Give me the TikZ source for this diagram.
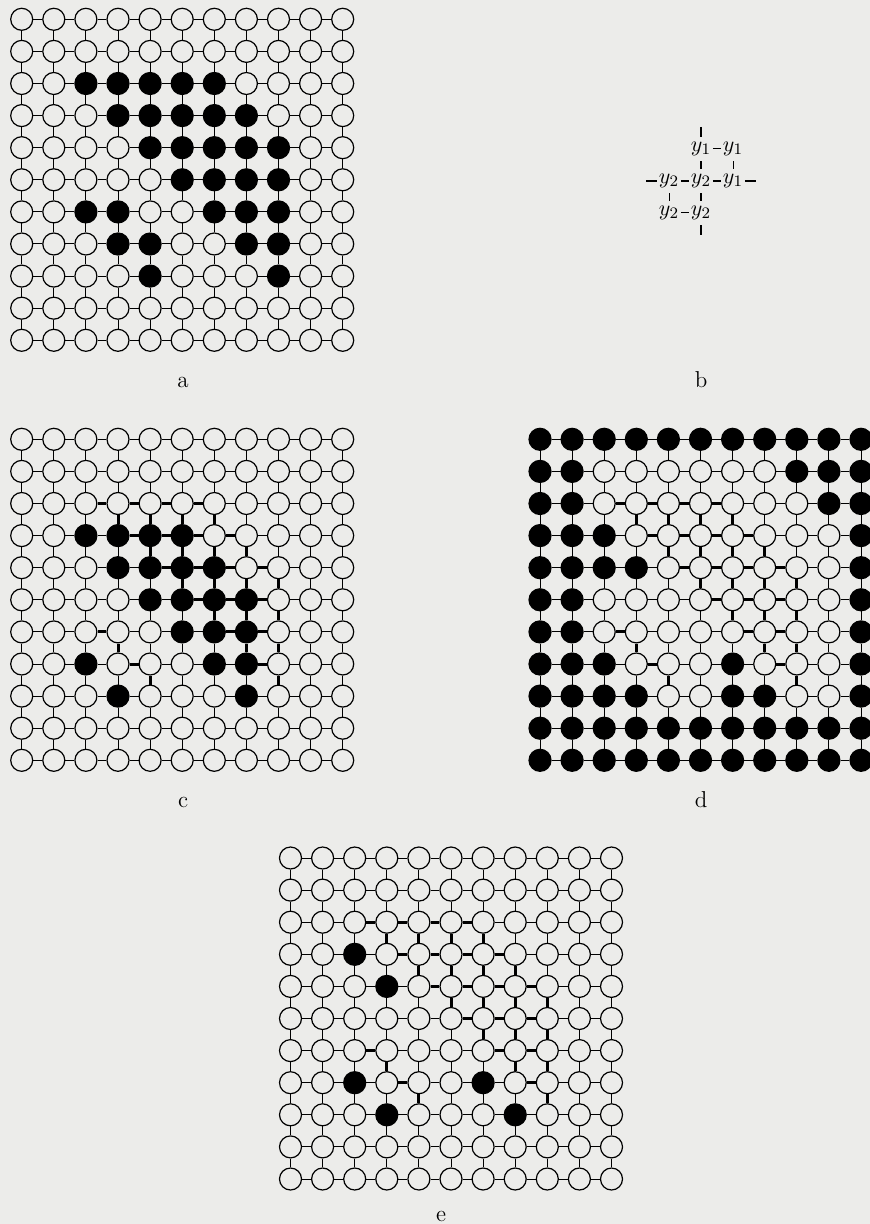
\documentclass[tikz,border=0pt]{standalone}
\definecolor{bgcol}{RGB}{236,236,234}
\tikzset{
  dot/.style={circle, minimum size=11pt, inner sep=0pt, line width=0.6pt, draw=black},
  whitedot/.style={dot, fill=bgcol},
  blackdot/.style={dot, fill=black},
  thinedge/.style={line width=0.5pt},
  thickedge/.style={line width=1.5pt},
  lbl/.style={anchor=base, font=\fontsize{11.5}{13}\selectfont, inner sep=0pt},
  ynode/.style={inner sep=0pt, minimum width=11.5pt, minimum height=12pt, font=\fontsize{11}{13}\selectfont},
  bthin/.style={line width=0.5pt},
  bthick/.style={line width=1.4pt}
}
\newcommand\setblk[2]{\foreach \r/\c in {#2}{\expandafter\gdef\csname blk#1-\r-\c\endcsname{}}}
\newcommand\setblkrow[3]{\foreach \c in {#3}{\expandafter\gdef\csname blk#1-#2-\c\endcsname{}}}
\newcommand\drawgrid[4]{%
  \foreach \r in {0,...,10}{\foreach \c in {0,...,10}{%
    \def\dsty{whitedot}%
    \ifcsname blk#1-\r-\c\endcsname\def\dsty{blackdot}\fi
    \node[\dsty] (#1-\r-\c) at ({#2+32.1*\c},{#3+32.1*\r}) {};
  }}%
  \foreach \r in {0,...,10}{\foreach \c in {0,...,9}{%
    \pgfmathtruncatemacro\cn{\c+1}%
    \def\esty{thinedge}%
    \ifnum#4=1 \ifcsname blka-\r-\c\endcsname\ifcsname blka-\r-\cn\endcsname\def\esty{thickedge}\fi\fi\fi
    \draw[\esty] (#1-\r-\c) -- (#1-\r-\cn);
  }}%
  \foreach \c in {0,...,10}{\foreach \r in {0,...,9}{%
    \pgfmathtruncatemacro\rn{\r+1}%
    \def\esty{thinedge}%
    \ifnum#4=1 \ifcsname blka-\r-\c\endcsname\ifcsname blka-\rn-\c\endcsname\def\esty{thickedge}\fi\fi\fi
    \draw[\esty] (#1-\r-\c) -- (#1-\rn-\c);
  }}%
}
% black cells
\setblk{a}{2/2,2/3,2/4,2/5,2/6,3/3,3/4,3/5,3/6,3/7,4/4,4/5,4/6,4/7,4/8,5/5,5/6,5/7,5/8,6/2,6/3,6/6,6/7,6/8,7/3,7/4,7/7,7/8,8/4,8/8}
\setblk{c}{3/2,3/3,3/4,3/5,4/3,4/4,4/5,4/6,5/4,5/5,5/6,5/7,6/5,6/6,6/7,7/2,7/6,7/7,8/3,8/7}
\setblkrow{d}{0}{0,...,10}
\setblkrow{d}{1}{0,1,8,9,10}
\setblkrow{d}{2}{0,1,9,10}
\setblkrow{d}{3}{0,1,2,10}
\setblkrow{d}{4}{0,1,2,3,10}
\setblkrow{d}{5}{0,1,10}
\setblkrow{d}{6}{0,1,10}
\setblkrow{d}{7}{0,1,2,6,10}
\setblkrow{d}{8}{0,1,2,3,6,7,10}
\setblkrow{d}{9}{0,...,10}
\setblkrow{d}{10}{0,...,10}
\setblk{e}{3/2,4/3,7/2,7/6,8/3,8/7}
\begin{document}
\begin{tikzpicture}[x=0.5pt,y=-0.5pt]
\clip (0,0) rectangle (870,1224);
\fill[bgcol] (0,0) rectangle (870,1224);
\drawgrid{a}{21.7}{19.3}{0}
\drawgrid{c}{21.7}{439.3}{1}
\drawgrid{d}{540}{439.3}{1}
\drawgrid{e}{290.5}{858}{1}
% mini diagram b
\node[ynode] (t0) at (701,149) {$y_1$};
\node[ynode] (t1) at (733,149) {$y_1$};
\node[ynode] (m0) at (669,181) {$y_2$};
\node[ynode] (m1) at (701,181) {$y_2$};
\node[ynode] (m2) at (733,181) {$y_1$};
\node[ynode] (b0) at (669,213) {$y_2$};
\node[ynode] (b1) at (701,213) {$y_2$};
\coordinate (bt) at (701,127);
\coordinate (bb) at (701,235);
\coordinate (bl) at (646,181);
\coordinate (br) at (756,181);
\draw[bthick] (bt) -- (t0);
\draw[bthick] (t0) -- (m1);
\draw[bthick] (m1) -- (b1);
\draw[bthick] (b1) -- (bb);
\draw[bthick] (bl) -- (m0);
\draw[bthick] (m0) -- (m1);
\draw[bthick] (m1) -- (m2);
\draw[bthick] (m2) -- (br);
\draw[bthin] (t0) -- (t1);
\draw[bthin] (t1) -- (m2);
\draw[bthin] (m0) -- (b0);
\draw[bthin] (b0) -- (b1);
% labels
\node[lbl] (la) at (183,387) {a};
\node[lbl] (lb) at (701,388) {b};
\node[lbl] (lc) at (183,807) {c};
\node[lbl] (ld) at (701,807) {d};
\node[lbl] (le) at (441,1221) {e};
\end{tikzpicture}
\end{document}
